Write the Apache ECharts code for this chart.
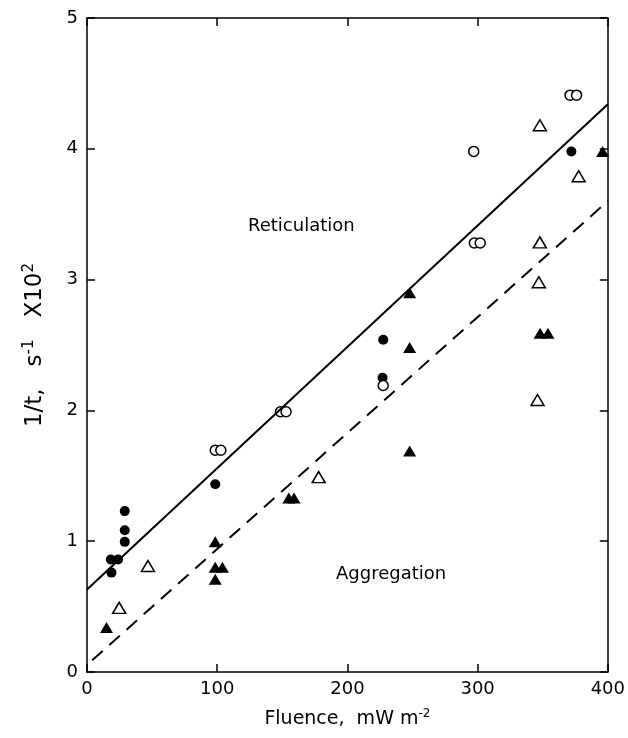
<!DOCTYPE html>
<html>
<head>
<meta charset="utf-8">
<script src="https://cdn.jsdelivr.net/npm/echarts@6/dist/echarts.min.js"></script>
<style>
html,body{margin:0;padding:0;background:#fff;}
#chart{width:628px;height:738px;}
</style>
</head>
<body>
<div id="chart"></div>
<script>
const xTicks = [0, 100, 200, 300, 400];
const yTicks = [0, 1, 2, 3, 4, 5];

const filledCircles = [[18.8,0.76],[18.3,0.86],[23.9,0.86],[29,0.995],[29,1.084],[29,1.23],[98.5,1.435],[227.5,2.54],[227,2.25],[372,3.98]];
const openCircles = [[98.5,1.695],[102.8,1.695],[148.6,1.99],[152.9,1.99],[227.5,2.19],[297,3.98],[297.5,3.28],[302,3.28],[371,4.41],[376,4.41]];
const openTriangles = [[24.7,0.49],[46.8,0.81],[177.9,1.49],[347.8,4.18],[377.6,3.79],[347.8,3.285],[347,2.98],[346,2.08]];
const filledTriangles = [[15,0.34],[98.5,0.995],[98.5,0.80],[104,0.80],[98.5,0.71],[155,1.33],[159,1.33],[247.8,2.90],[247.8,2.48],[247.8,1.69],[348,2.59],[354,2.59],[396,3.98]];

const solidLine = [[0,0.63],[400,4.34]];
const dashedLine = [[4,0.09],[400,3.6]];

const chart = echarts.init(document.getElementById('chart'), null, {renderer:'canvas'});
const font = 'DejaVu Sans';
const axisLine = {show:true, onZero:false, lineStyle:{color:'#000', width:1.5}};
const tickIn = {show:true, inside:true, length:8, lineStyle:{color:'#000', width:1.5}};

const option = {
  backgroundColor:'#fff',
  animation:false,
  grid:{left:87, right:18, top:18, bottom:66},
  xAxis:[{
    type:'value', min:0, max:400, interval:100,
    axisLine:axisLine, axisTick:tickIn, splitLine:{show:false},
    axisLabel:{color:'#000', fontSize:18, fontFamily:font, margin:8,
      formatter:v=> xTicks.includes(v) ? String(v) : ''},
    name:'{a|Fluence,  mW m}{s|-2}', nameLocation:'middle', nameGap:36,
    nameTextStyle:{rich:{a:{fontSize:19, fontFamily:font, color:'#000'}, s:{fontSize:12, fontFamily:font, color:'#000', verticalAlign:'top', padding:[0,0,10,0]}}}
  },{
    type:'value', position:'top', min:0, max:400, interval:100,
    axisLine:axisLine, axisTick:tickIn, axisLabel:{show:false}, splitLine:{show:false}
  }],
  yAxis:[{
    type:'value', min:0, max:5, interval:1,
    axisLine:axisLine, axisTick:tickIn, splitLine:{show:false},
    axisLabel:{color:'#000', fontSize:18, fontFamily:font, margin:9,
      formatter:v=> yTicks.includes(v) ? String(v) : ''},
    name:'{a|1/t,   s}{s|-1}{a|   X10}{s|2}', nameLocation:'middle', nameGap:38, nameRotate:90,
    nameTextStyle:{rich:{a:{fontSize:23, fontFamily:font, color:'#000'}, s:{fontSize:15, fontFamily:font, color:'#000', verticalAlign:'top', padding:[0,0,12,0]}}}
  },{
    type:'value', position:'right', min:0, max:5, interval:1,
    axisLine:axisLine, axisTick:tickIn, axisLabel:{show:false}, splitLine:{show:false}
  }],
  series:[
    {type:'line', data:solidLine, symbol:'none', lineStyle:{color:'#000', width:2}, silent:true},
    {type:'line', data:dashedLine, symbol:'none', lineStyle:{color:'#000', width:2, type:[14,9]}, silent:true},
    {type:'scatter', data:filledCircles, symbol:'circle', symbolSize:10, itemStyle:{color:'#000', opacity:1}},
    {type:'scatter', data:openCircles, symbol:'circle', symbolSize:10, itemStyle:{color:'#fff', borderColor:'#000', borderWidth:1.5, opacity:1}},
    {type:'scatter', data:openTriangles, symbol:'triangle', symbolSize:[13,11], itemStyle:{color:'#fff', borderColor:'#000', borderWidth:1.5, opacity:1}},
    {type:'scatter', data:filledTriangles, symbol:'triangle', symbolSize:[13,11], itemStyle:{color:'#000', opacity:1}}
  ],
  graphic:[
    {type:'text', left:248, top:217, style:{text:'Reticulation', fontSize:18, fontFamily:font, fill:'#000'}},
    {type:'text', left:336, top:565, style:{text:'Aggregation', fontSize:18, fontFamily:font, fill:'#000'}}
  ]
};
chart.setOption(option);
</script>
</body>
</html>
